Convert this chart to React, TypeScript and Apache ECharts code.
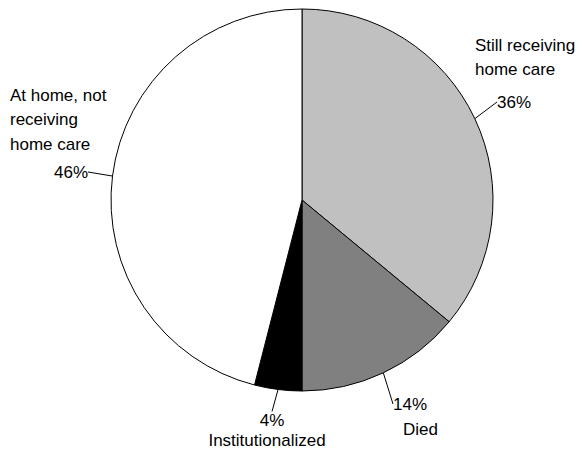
import React, { useEffect, useRef } from 'react';
import * as echarts from 'echarts';

const categories = ['Still receiving home care', 'Died', 'Institutionalized', 'At home, not receiving home care'];
const nameLabels = ['Still receiving\nhome care', 'Died', 'Institutionalized', 'At home, not\nreceiving\nhome care'];
const shares = [36, 14, 4, 46];
const colors = ['#c0c0c0', '#808080', '#000000', '#ffffff'];

const FONT = "'Liberation Sans Narrow', 'Arial Narrow', 'Liberation Sans', Arial, sans-serif";

const pctPos = [
  { x: 497, y: 102, align: 'left', verticalAlign: 'middle' },
  { x: 393, y: 404, align: 'left', verticalAlign: 'middle' },
  { x: 272, y: 420, align: 'center', verticalAlign: 'middle' },
  { x: 88, y: 172, align: 'right', verticalAlign: 'middle' },
];
const namePos = [
  { x: 475, y: 33, align: 'left', verticalAlign: 'top' },
  { x: 403, y: 429, align: 'left', verticalAlign: 'middle' },
  { x: 267, y: 440, align: 'center', verticalAlign: 'middle' },
  { x: 10, y: 83, align: 'left', verticalAlign: 'top' },
];

export default function App() {
  const ref = useRef<HTMLDivElement>(null);
  useEffect(() => {
    if (!ref.current) return;
    const chart = echarts.init(ref.current, undefined, { renderer: 'svg' });
    const data = categories.map((name, i) => ({
      name,
      value: shares[i],
      itemStyle: { color: colors[i] },
    }));
    chart.setOption({
      animation: false,
      backgroundColor: '#ffffff',
      textStyle: { fontFamily: FONT },
      series: [
        {
          type: 'pie',
          center: [302, 200],
          radius: 191,
          startAngle: 90,
          clockwise: true,
          avoidLabelOverlap: false,
          silent: true,
          data,
          itemStyle: { borderColor: '#000', borderWidth: 1 },
          label: {
            show: true,
            position: 'outside',
            formatter: '{c}%',
            fontFamily: FONT,
            fontSize: 17,
            color: '#000',
            overflow: 'none',
          },
          labelLine: { show: true, length: 10, length2: 0, lineStyle: { color: '#000', width: 1 } },
          labelLayout: (p: any) => pctPos[p.dataIndex],
        },
        {
          type: 'pie',
          center: [302, 200],
          radius: 191,
          startAngle: 90,
          clockwise: true,
          avoidLabelOverlap: false,
          silent: true,
          data: categories.map((name, i) => ({ name, value: shares[i] })),
          itemStyle: { color: 'transparent', borderWidth: 0 },
          label: {
            show: true,
            position: 'outside',
            formatter: (p: any) => nameLabels[p.dataIndex],
            fontFamily: FONT,
            fontSize: 17,
            lineHeight: 24.5,
            color: '#000',
            overflow: 'none',
          },
          labelLine: { show: false },
          labelLayout: (p: any) => namePos[p.dataIndex],
        },
      ],
    });
    return () => chart.dispose();
  }, []);
  return <div ref={ref} style={{ position: 'fixed', left: 0, top: 0, width: 577, height: 450 }} />;
}
